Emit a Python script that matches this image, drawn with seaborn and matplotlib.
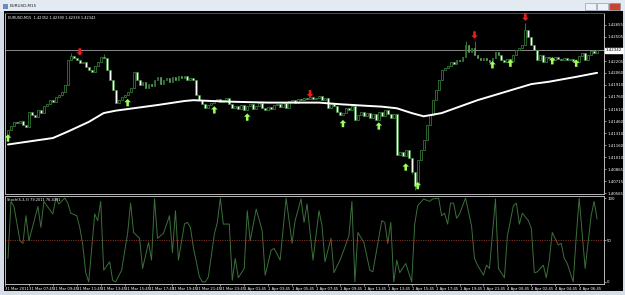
import numpy as np
import pandas as pd
import matplotlib
matplotlib.use("Agg")
import matplotlib.pyplot as plt
import seaborn as sns
from matplotlib.path import Path
from matplotlib.patches import Rectangle

# ---------------- data ----------------
window_title = "EURUSD,M15"
info_text = "EURUSD,M15  1.42352 1.42390 1.42338 1.42342"
stoch_text = "Stoch(5,3,3) 79.2011 76.4391"
bid_price = 1.42342
first_open = 1.4129

closes = [
    1.4135, 1.4140, 1.4145, 1.4144, 1.4146, 1.4141, 1.4139, 1.4157, 1.4154, 1.4151,
    1.4160, 1.4156, 1.4165, 1.4167, 1.4172, 1.4170, 1.4176, 1.4178, 1.4182, 1.4191,
    1.4222, 1.4227, 1.4224, 1.4222, 1.4218, 1.4219, 1.4213, 1.4209, 1.4207, 1.4214,
    1.4219, 1.4226, 1.4224, 1.4209, 1.4197, 1.4185, 1.4169, 1.4172, 1.4176, 1.4178,
    1.4182, 1.4187, 1.4207, 1.4197, 1.4191, 1.4195, 1.4187, 1.4192, 1.4190, 1.4197,
    1.4201, 1.4192, 1.4197, 1.4199, 1.4195, 1.4201, 1.4197, 1.4202, 1.4199, 1.4202,
    1.4197, 1.4199, 1.4197, 1.4178, 1.4172, 1.4167, 1.4162, 1.4166, 1.4169, 1.4172,
    1.4173, 1.4170, 1.4172, 1.4175, 1.4167, 1.4162, 1.4165, 1.4161, 1.4166, 1.4160,
    1.4165, 1.4167, 1.4161, 1.4165, 1.4169, 1.4162, 1.4160, 1.4164, 1.4161, 1.4166,
    1.4167, 1.4164, 1.4169, 1.4162, 1.4171, 1.4172, 1.4169, 1.4173, 1.4172, 1.4175,
    1.4173, 1.4176, 1.4173, 1.4175, 1.4177, 1.4172, 1.4175, 1.4162, 1.4167, 1.4165,
    1.4157, 1.4154, 1.4156, 1.4162, 1.4160, 1.4165, 1.4148, 1.4154, 1.4157, 1.4152,
    1.4156, 1.4150, 1.4155, 1.4148, 1.4157, 1.4152, 1.4160, 1.4155, 1.4150, 1.4155,
    1.4104, 1.4108, 1.4103, 1.4110, 1.4100, 1.4083, 1.4065, 1.4098, 1.4110, 1.4123,
    1.4141, 1.4154, 1.4172, 1.4185, 1.4197, 1.4209, 1.4212, 1.4214, 1.4219, 1.4217,
    1.4222, 1.4221, 1.4226, 1.4240, 1.4232, 1.4237, 1.4228, 1.4224, 1.4222, 1.4224,
    1.4222, 1.4219, 1.4224, 1.4232, 1.4228, 1.4222, 1.4219, 1.4223, 1.4221, 1.4228,
    1.4234, 1.4237, 1.4240, 1.4259, 1.4251, 1.4240, 1.4234, 1.4222, 1.4228, 1.4219,
    1.4226, 1.4224, 1.4222, 1.4226, 1.4223, 1.4222, 1.4224, 1.4222, 1.4223, 1.4221,
    1.4219, 1.4227, 1.4230, 1.4222, 1.4228, 1.4233, 1.4230, 1.42342,
]
# notable wicks
high_idx = [21, 32, 153, 156, 173]
high_val = [1.4230, 1.4229, 1.4245, 1.4246, 1.4268]
low_idx = [0, 135, 136]
low_val = [1.4127, 1.4080, 1.4061]

# moving average (white line)
ma_idx = [0, 15, 20, 27, 32, 36, 42, 50, 59, 62, 68, 76, 87, 98, 104, 111, 120,
          125, 130, 135, 139, 145, 151, 157, 166, 175, 181, 190, 197]
ma_val = [1.4117, 1.4125, 1.4133, 1.4145, 1.4156, 1.4159, 1.4162, 1.4166, 1.4171,
          1.4172, 1.4171, 1.4170, 1.4169, 1.4169, 1.4169, 1.4167, 1.4165, 1.4164,
          1.4162, 1.4156, 1.4152, 1.4156, 1.4164, 1.4172, 1.4182, 1.4192, 1.4195,
          1.4201, 1.4206]

# fractal arrows
up_idx = [0, 40, 69, 80, 112, 124, 133, 137, 162, 168, 182, 190]
up_val = [1.4125, 1.4169, 1.4160, 1.4151, 1.4143, 1.4140, 1.4089, 1.4066,
          1.4216, 1.4218, 1.4221, 1.4218]
down_idx = [24, 101, 156, 173]
down_val = [1.4232, 1.4180, 1.4253, 1.4275]

# stochastic
stoch_idx = [0, 1, 2, 4, 5, 6, 7, 10, 11, 12, 15, 16, 17, 19, 20, 21, 23, 24, 25, 26,
             27, 29, 30, 31, 32, 34, 35, 36, 38, 40, 41, 42, 44, 45, 47, 48, 49, 50,
             52, 54, 55, 56, 57, 59, 60, 61, 62, 64, 65, 66, 67, 69, 70, 71, 72, 74,
             75, 76, 77, 79, 80, 81, 83, 85, 86, 88, 89, 91, 93, 95, 96, 98, 99, 100,
             102, 104, 105, 106, 108, 109, 111, 112, 114, 115, 116, 117, 119, 121,
             122, 125, 126, 127, 128, 129, 130, 131, 133, 135, 136, 137, 139, 141,
             142, 144, 145, 146, 147, 148, 149, 150, 151, 153, 155, 156, 157, 159,
             160, 161, 163, 164, 166, 167, 169, 170, 171, 172, 174, 175, 176, 177,
             179, 180, 181, 182, 184, 185, 186, 187, 189, 190, 191, 193, 195, 196, 197]
stoch_val = [28, 96, 90, 49, 46, 79, 49, 90, 65, 96, 81, 100, 93, 100, 94, 82, 79, 65, 44, 11,
             0, 81, 73, 96, 14, 24, 2, 0, 14, 58, 94, 59, 52, 16, 47, 26, 99, 52,
             58, 79, 35, 85, 26, 69, 71, 65, 41, 6, 0, 0, 6, 57, 71, 100, 69, 69,
             2, 28, 5, 16, 85, 49, 87, 61, 8, 38, 40, 26, 100, 46, 73, 99, 71, 93,
             26, 85, 67, 24, 52, 11, 26, 35, 55, 96, 0, 59, 47, 14,
             12, 73, 71, 46, 71, 0, 26, 11, 22, 0, 69, 91, 99, 96,
             99, 100, 79, 82, 69, 94, 94, 76, 81, 100, 67, 28, 20, 8,
             20, 16, 99, 16, 5, 55, 91, 94, 69, 82, 73, 64, 11, 12,
             20, 5, 26, 59, 44, 46, 28, 22, 0, 53, 100, 16, 79, 96, 75]

price_ticks = [1.40565, 1.40715, 1.40865, 1.41010, 1.41160, 1.41310, 1.41460,
               1.41610, 1.41760, 1.41910, 1.42060, 1.42205, 1.42505, 1.42655]
stoch_ticks = [0, 50, 100]
time_labels = ["31 Mar 2011", "31 Mar 07:45", "31 Mar 09:45", "31 Mar 11:45",
               "31 Mar 13:45", "31 Mar 15:45", "31 Mar 17:45", "31 Mar 19:45",
               "31 Mar 21:45", "31 Mar 23:45", "1 Apr 01:45", "1 Apr 03:45",
               "1 Apr 05:45", "1 Apr 07:45", "1 Apr 09:45", "1 Apr 11:45",
               "1 Apr 13:45", "1 Apr 15:45", "1 Apr 17:45", "1 Apr 19:45",
               "1 Apr 21:45", "4 Apr 00:45", "4 Apr 02:45", "4 Apr 04:45",
               "4 Apr 06:45"]
bars_per_label = 8

# ---------------- style ----------------
sns.set_theme(style="dark", rc={"axes.facecolor": "black", "figure.facecolor": "#d5dde8",
                                "axes.grid": False})
plt.rcParams["font.family"] = ["DejaVu Sans"]

W, H = 625, 295
fig = plt.figure(figsize=(6.25, 2.95), dpi=100)


def box(x0, y0, x1, y1):
    return [x0 / W, 1 - y1 / H, (x1 - x0) / W, (y1 - y0) / H]


# window chrome
fig.patches.append(Rectangle((0, 1 - 11 / H), 1, 11 / H, transform=fig.transFigure,
                             fc="#e4eaf2", ec="none", zorder=0))
fig.text(10 / W, 1 - 6 / H, window_title, fontsize=3.0, va="center", ha="left", color="#202020")
fig.patches.append(Rectangle((3 / W, 1 - 9 / H), 5 / W, 5 / H, transform=fig.transFigure,
                             fc="#6a8cc0", ec="none"))
for x0, fc in [(585, "#eef2f7"), (597, "#eef2f7"), (609, "#c9442e")]:
    fig.patches.append(Rectangle((x0 / W, 1 - 10 / H), 11 / W, 7 / H, transform=fig.transFigure,
                                 fc=fc, ec="#7d8ca0", lw=0.4))

bg = fig.add_axes(box(4, 11, 623, 291))
bg.set_facecolor("black")
bg.set_xticks([]); bg.set_yticks([])
for s in bg.spines.values():
    s.set_visible(False)

ax = fig.add_axes(box(5, 13, 604, 194))
ax2 = fig.add_axes(box(5, 196, 604, 284), sharex=ax)

# ---------------- candles ----------------
n = len(closes)
idx = np.arange(n)
c = np.array(closes)
o = np.array([first_open] + closes[:-1])
hi = np.maximum(o, c)
lo = np.minimum(o, c)
for i, v in zip(high_idx, high_val):
    hi[i] = v
for i, v in zip(low_idx, low_val):
    lo[i] = v
df = pd.DataFrame({"i": idx, "open": o, "close": c, "high": hi, "low": lo})
df["bull"] = df["close"] >= df["open"]
green = "#3d8a3d"
ax.vlines(df["i"], df["low"], df["high"], color=green, lw=0.6, zorder=2)
bottoms = np.minimum(df["open"], df["close"])
heights = np.maximum(np.abs(df["close"] - df["open"]), 0.00004)
ax.bar(df["i"], heights, bottom=bottoms, width=0.62,
       color=np.where(df["bull"], "black", "white"), edgecolor=green, linewidth=0.5, zorder=3)

# bid line
ax.axhline(bid_price, color="#8a8a8a", lw=0.7, zorder=1)

# moving average
sns.lineplot(x=ma_idx, y=ma_val, ax=ax, color="white", lw=1.4, zorder=4)

# fractal arrows
up_arrow = Path([(0, 1), (-0.9, 0.1), (-0.35, 0.1), (-0.35, -1), (0.35, -1),
                 (0.35, 0.1), (0.9, 0.1), (0, 1)], closed=True)
down_arrow = Path([(0, -1), (-0.9, -0.1), (-0.35, -0.1), (-0.35, 1), (0.35, 1),
                   (0.35, -0.1), (0.9, -0.1), (0, -1)], closed=True)
sns.scatterplot(x=up_idx, y=up_val, ax=ax, marker=up_arrow, s=28, color="#9cff5a",
                edgecolor="none", linewidth=0, zorder=5)
sns.scatterplot(x=down_idx, y=down_val, ax=ax, marker=down_arrow, s=28, color="#e82020",
                edgecolor="none", linewidth=0, zorder=5)

ax.set_xlim(-0.4, 199.3)
ax.set_ylim(1.40555, 1.42803)
ax.yaxis.tick_right()
ax.set_yticks(price_ticks)
ax.set_yticklabels([f"{t:.5f}" for t in price_ticks])
ax.tick_params(axis="y", colors="#c8c8c8", labelcolor="white", labelsize=2.8,
               length=1.5, width=0.5, pad=0.8, right=True, left=False)
ax.tick_params(axis="x", bottom=False, labelbottom=False)
ax.set_xlabel(""); ax.set_ylabel("")
ax.annotate(f"{bid_price:.5f}", xy=(1.0, bid_price), xycoords=("axes fraction", "data"),
            xytext=(1.4, 0), textcoords="offset points", ha="left", va="center",
            fontsize=2.8, color="black", annotation_clip=False,
            bbox=dict(boxstyle="square,pad=0.15", fc="white", ec="white"))
ax.text(0.005, 0.985, info_text, transform=ax.transAxes, fontsize=2.5, color="white",
        va="top", ha="left")

# ---------------- stochastic ----------------
sns.lineplot(x=stoch_idx, y=stoch_val, ax=ax2, color="#3a703a", lw=0.7)
ax2.axhline(50, color="#a8402a", lw=0.6, linestyle=(0, (1.2, 1.6)))
ax2.set_ylim(-2.5, 102.5)
ax2.yaxis.tick_right()
ax2.set_yticks(stoch_ticks)
ax2.set_yticklabels([str(t) for t in stoch_ticks])
ax2.tick_params(axis="y", colors="#c8c8c8", labelcolor="white", labelsize=2.8,
                length=1.5, width=0.5, pad=0.8, right=True, left=False)
tick_pos = np.arange(len(time_labels)) * bars_per_label - 1
ax2.set_xticks(tick_pos)
ax2.set_xticklabels(time_labels)
ax2.tick_params(axis="x", colors="#c8c8c8", labelcolor="white", labelsize=2.7,
                length=1.5, width=0.5, pad=0.8, bottom=True)
for lbl in ax2.get_xticklabels():
    lbl.set_ha("left")
ax2.set_xlabel(""); ax2.set_ylabel("")
ax2.text(0.003, 0.975, stoch_text, transform=ax2.transAxes, fontsize=2.5, color="white",
         va="top", ha="left")

for a in (ax, ax2):
    for s in a.spines.values():
        s.set_color("#b8b8b8")
        s.set_linewidth(0.7)
        s.set_visible(True)
ax.spines["top"].set_color("#505050")

fig.savefig("out.png", dpi=100)
